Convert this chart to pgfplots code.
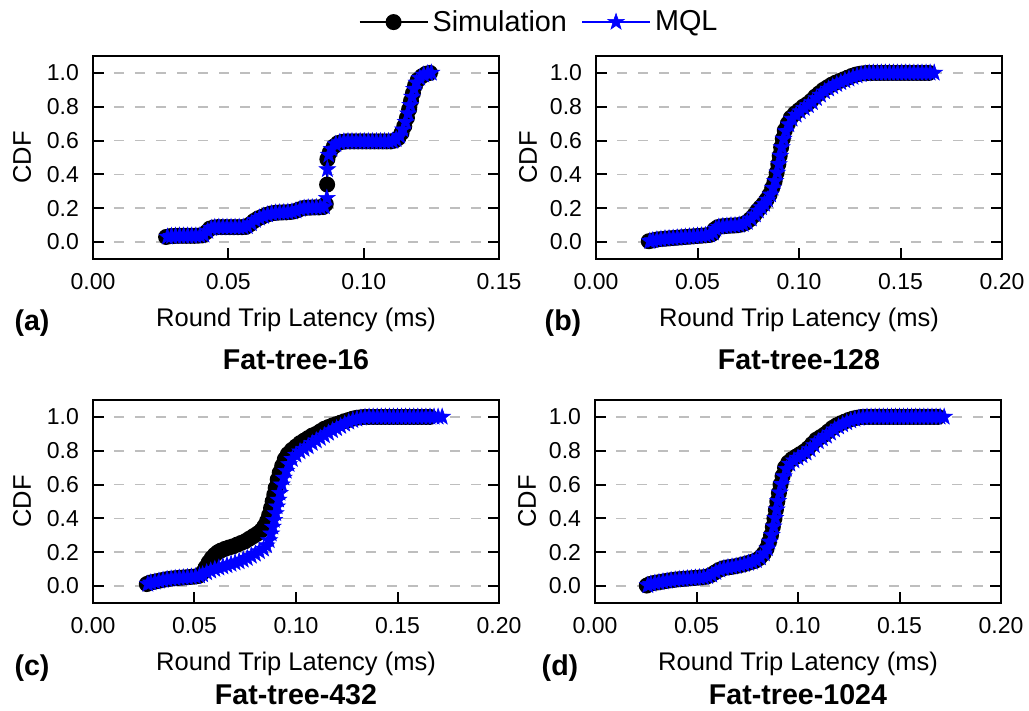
\documentclass[border=0pt]{standalone}
\usepackage{pgfplots}
\pgfplotsset{compat=1.18}
\usepackage{pgfplotstable}
\usepackage{fontspec}
\setmainfont{Liberation Sans}
\definecolor{gridgray}{RGB}{190,190,190}

% filled five-pointed star
\pgfdeclareplotmark{fstar}{%
  \pgfpathmoveto{\pgfpointpolar{90}{\pgfplotmarksize}}%
  \pgfpathlineto{\pgfpointpolar{126}{0.4\pgfplotmarksize}}%
  \pgfpathlineto{\pgfpointpolar{162}{\pgfplotmarksize}}%
  \pgfpathlineto{\pgfpointpolar{198}{0.4\pgfplotmarksize}}%
  \pgfpathlineto{\pgfpointpolar{234}{\pgfplotmarksize}}%
  \pgfpathlineto{\pgfpointpolar{270}{0.4\pgfplotmarksize}}%
  \pgfpathlineto{\pgfpointpolar{306}{\pgfplotmarksize}}%
  \pgfpathlineto{\pgfpointpolar{342}{0.4\pgfplotmarksize}}%
  \pgfpathlineto{\pgfpointpolar{18}{\pgfplotmarksize}}%
  \pgfpathlineto{\pgfpointpolar{54}{0.4\pgfplotmarksize}}%
  \pgfpathclose\pgfusepathqfillstroke}

% Fat-tree-16
\pgfplotstableread{
x y
0.0270 0.030
0.0285 0.035
0.0300 0.036
0.0315 0.037
0.0330 0.037
0.0345 0.037
0.0360 0.037
0.0375 0.037
0.0390 0.038
0.0405 0.040
0.0420 0.060
0.0432 0.080
0.0445 0.086
0.0460 0.088
0.0475 0.088
0.0490 0.088
0.0505 0.088
0.0520 0.088
0.0535 0.088
0.0550 0.088
0.0565 0.090
0.0580 0.105
0.0595 0.125
0.0610 0.140
0.0625 0.150
0.0640 0.160
0.0655 0.168
0.0670 0.172
0.0685 0.174
0.0700 0.175
0.0715 0.176
0.0730 0.178
0.0745 0.182
0.0760 0.192
0.0775 0.200
0.0790 0.203
0.0805 0.204
0.0820 0.205
0.0835 0.205
0.0850 0.207
0.0860 0.225
0.0865 0.340
0.0866 0.490
0.0875 0.530
0.0890 0.565
0.0905 0.585
0.0920 0.592
0.0935 0.595
0.0950 0.595
0.0965 0.595
0.0980 0.595
0.0995 0.595
0.1010 0.595
0.1025 0.595
0.1040 0.595
0.1055 0.595
0.1070 0.595
0.1085 0.595
0.1100 0.595
0.1115 0.600
0.1128 0.615
0.1140 0.645
0.1150 0.685
0.1160 0.735
0.1168 0.785
0.1175 0.835
0.1182 0.880
0.1190 0.925
0.1200 0.958
0.1215 0.980
0.1230 0.995
0.1245 1.000
}\simA
\pgfplotstableread{
x y
0.0275 0.031
0.0290 0.035
0.0305 0.036
0.0320 0.037
0.0335 0.037
0.0350 0.037
0.0365 0.037
0.0380 0.037
0.0395 0.038
0.0410 0.042
0.0424 0.065
0.0437 0.082
0.0450 0.087
0.0465 0.088
0.0480 0.088
0.0495 0.088
0.0510 0.088
0.0525 0.088
0.0540 0.088
0.0555 0.089
0.0570 0.093
0.0585 0.110
0.0600 0.130
0.0615 0.143
0.0630 0.153
0.0645 0.162
0.0660 0.169
0.0675 0.173
0.0690 0.174
0.0705 0.175
0.0720 0.177
0.0735 0.179
0.0750 0.185
0.0765 0.195
0.0780 0.201
0.0795 0.203
0.0810 0.204
0.0825 0.205
0.0840 0.206
0.0855 0.210
0.0864 0.260
0.0866 0.430
0.0871 0.515
0.0882 0.550
0.0897 0.578
0.0912 0.590
0.0927 0.594
0.0942 0.595
0.0957 0.595
0.0972 0.595
0.0987 0.595
0.1002 0.595
0.1017 0.595
0.1032 0.595
0.1047 0.595
0.1062 0.595
0.1077 0.595
0.1092 0.595
0.1107 0.597
0.1120 0.607
0.1133 0.628
0.1145 0.665
0.1155 0.710
0.1164 0.760
0.1172 0.810
0.1179 0.858
0.1186 0.905
0.1195 0.942
0.1207 0.970
0.1222 0.988
0.1237 0.997
0.1250 1.000
}\mqlA

% Fat-tree-128
\pgfplotstableread{
x y
0.0260 0.005
0.0280 0.010
0.0300 0.015
0.0320 0.018
0.0340 0.020
0.0360 0.022
0.0380 0.024
0.0400 0.026
0.0420 0.028
0.0440 0.030
0.0460 0.032
0.0480 0.034
0.0500 0.036
0.0520 0.038
0.0540 0.040
0.0560 0.042
0.0575 0.050
0.0585 0.075
0.0600 0.088
0.0620 0.093
0.0640 0.095
0.0660 0.097
0.0680 0.098
0.0700 0.100
0.0720 0.105
0.0740 0.115
0.0760 0.135
0.0780 0.160
0.0795 0.185
0.0810 0.205
0.0825 0.225
0.0840 0.250
0.0855 0.280
0.0868 0.320
0.0880 0.360
0.0890 0.410
0.0898 0.460
0.0905 0.510
0.0912 0.560
0.0920 0.610
0.0930 0.660
0.0945 0.700
0.0960 0.735
0.0980 0.760
0.1000 0.780
0.1020 0.800
0.1040 0.815
0.1060 0.835
0.1080 0.860
0.1100 0.880
0.1120 0.900
0.1140 0.915
0.1160 0.930
0.1180 0.942
0.1200 0.952
0.1220 0.962
0.1240 0.972
0.1260 0.982
0.1280 0.990
0.1300 0.995
0.1320 0.998
0.1340 1.000
0.1360 1.000
0.1380 1.000
0.1400 1.000
0.1420 1.000
0.1440 1.000
0.1460 1.000
0.1480 1.000
0.1500 1.000
0.1520 1.000
0.1540 1.000
0.1560 1.000
0.1580 1.000
0.1600 1.000
0.1620 1.000
0.1640 1.000
}\simB
\pgfplotstableread{
x y
0.0265 0.005
0.0280 0.010
0.0300 0.014
0.0320 0.017
0.0340 0.020
0.0360 0.022
0.0380 0.024
0.0400 0.026
0.0420 0.028
0.0440 0.030
0.0460 0.032
0.0480 0.034
0.0500 0.036
0.0520 0.038
0.0540 0.040
0.0560 0.043
0.0578 0.055
0.0590 0.078
0.0605 0.089
0.0625 0.093
0.0645 0.095
0.0665 0.097
0.0685 0.098
0.0705 0.101
0.0725 0.106
0.0745 0.118
0.0765 0.138
0.0785 0.162
0.0800 0.185
0.0815 0.205
0.0830 0.225
0.0845 0.250
0.0860 0.280
0.0872 0.320
0.0883 0.360
0.0893 0.410
0.0901 0.460
0.0908 0.510
0.0915 0.560
0.0924 0.610
0.0935 0.655
0.0950 0.695
0.0966 0.728
0.0986 0.752
0.1006 0.772
0.1026 0.792
0.1046 0.808
0.1066 0.826
0.1086 0.850
0.1106 0.870
0.1126 0.890
0.1146 0.906
0.1166 0.920
0.1186 0.933
0.1206 0.944
0.1226 0.955
0.1246 0.965
0.1266 0.975
0.1286 0.984
0.1306 0.991
0.1326 0.996
0.1346 0.999
0.1366 1.000
0.1386 1.000
0.1406 1.000
0.1426 1.000
0.1446 1.000
0.1466 1.000
0.1486 1.000
0.1506 1.000
0.1526 1.000
0.1546 1.000
0.1566 1.000
0.1586 1.000
0.1606 1.000
0.1626 1.000
0.1646 1.000
0.1666 1.000
}\mqlB

% Fat-tree-432
\pgfplotstableread{
x y
0.0265 0.012
0.0280 0.020
0.0300 0.025
0.0320 0.030
0.0340 0.035
0.0360 0.040
0.0380 0.043
0.0400 0.046
0.0420 0.048
0.0440 0.050
0.0460 0.052
0.0480 0.054
0.0500 0.056
0.0520 0.060
0.0540 0.080
0.0555 0.110
0.0570 0.140
0.0585 0.165
0.0600 0.185
0.0615 0.200
0.0630 0.210
0.0650 0.220
0.0670 0.228
0.0690 0.235
0.0710 0.245
0.0730 0.255
0.0750 0.265
0.0770 0.280
0.0790 0.295
0.0810 0.310
0.0830 0.330
0.0845 0.355
0.0858 0.385
0.0868 0.420
0.0877 0.460
0.0885 0.500
0.0893 0.540
0.0900 0.580
0.0910 0.630
0.0920 0.670
0.0932 0.710
0.0945 0.750
0.0960 0.780
0.0980 0.805
0.1000 0.825
0.1020 0.845
0.1040 0.860
0.1060 0.875
0.1080 0.890
0.1100 0.900
0.1120 0.915
0.1140 0.930
0.1160 0.940
0.1180 0.950
0.1200 0.958
0.1220 0.966
0.1240 0.975
0.1260 0.982
0.1280 0.990
0.1300 0.995
0.1320 0.998
0.1340 1.000
0.1360 1.000
0.1380 1.000
0.1400 1.000
0.1420 1.000
0.1440 1.000
0.1460 1.000
0.1480 1.000
0.1500 1.000
0.1520 1.000
0.1540 1.000
0.1560 1.000
0.1580 1.000
0.1600 1.000
0.1620 1.000
0.1640 1.000
0.1660 1.000
}\simC
\pgfplotstableread{
x y
0.0270 0.012
0.0285 0.020
0.0305 0.025
0.0325 0.030
0.0345 0.035
0.0365 0.040
0.0385 0.043
0.0405 0.046
0.0425 0.048
0.0445 0.050
0.0465 0.052
0.0485 0.054
0.0505 0.056
0.0525 0.061
0.0540 0.068
0.0560 0.080
0.0580 0.090
0.0600 0.100
0.0620 0.108
0.0640 0.115
0.0660 0.122
0.0680 0.130
0.0700 0.138
0.0720 0.145
0.0740 0.155
0.0760 0.165
0.0780 0.178
0.0800 0.190
0.0820 0.205
0.0840 0.220
0.0855 0.240
0.0868 0.270
0.0878 0.310
0.0886 0.350
0.0893 0.390
0.0900 0.430
0.0907 0.470
0.0914 0.510
0.0921 0.550
0.0930 0.600
0.0940 0.640
0.0952 0.680
0.0966 0.720
0.0982 0.750
0.1000 0.775
0.1020 0.795
0.1040 0.810
0.1060 0.825
0.1080 0.845
0.1100 0.860
0.1120 0.875
0.1140 0.890
0.1160 0.905
0.1180 0.920
0.1200 0.932
0.1220 0.945
0.1240 0.958
0.1260 0.970
0.1280 0.980
0.1300 0.988
0.1320 0.994
0.1340 0.998
0.1360 1.000
0.1380 1.000
0.1400 1.000
0.1420 1.000
0.1440 1.000
0.1460 1.000
0.1480 1.000
0.1500 1.000
0.1520 1.000
0.1540 1.000
0.1560 1.000
0.1580 1.000
0.1600 1.000
0.1620 1.000
0.1640 1.000
0.1660 1.000
0.1680 1.000
0.1700 1.000
0.1720 1.000
}\mqlC

% Fat-tree-1024
\pgfplotstableread{
x y
0.0255 0.003
0.0270 0.012
0.0290 0.018
0.0310 0.022
0.0330 0.026
0.0350 0.030
0.0370 0.034
0.0390 0.037
0.0410 0.040
0.0430 0.042
0.0450 0.044
0.0470 0.046
0.0490 0.048
0.0510 0.050
0.0530 0.052
0.0550 0.056
0.0570 0.065
0.0590 0.080
0.0610 0.095
0.0630 0.105
0.0650 0.110
0.0670 0.113
0.0690 0.117
0.0710 0.122
0.0730 0.128
0.0750 0.135
0.0770 0.142
0.0790 0.150
0.0810 0.165
0.0830 0.190
0.0845 0.220
0.0857 0.260
0.0867 0.300
0.0876 0.350
0.0884 0.400
0.0891 0.450
0.0898 0.500
0.0906 0.550
0.0914 0.600
0.0924 0.650
0.0936 0.700
0.0952 0.730
0.0970 0.750
0.0990 0.765
0.1010 0.780
0.1030 0.795
0.1050 0.815
0.1070 0.840
0.1090 0.865
0.1110 0.880
0.1130 0.895
0.1150 0.915
0.1170 0.935
0.1190 0.950
0.1210 0.962
0.1230 0.972
0.1250 0.982
0.1270 0.990
0.1290 0.995
0.1310 0.999
0.1330 1.000
0.1350 1.000
0.1370 1.000
0.1390 1.000
0.1410 1.000
0.1430 1.000
0.1450 1.000
0.1470 1.000
0.1490 1.000
0.1510 1.000
0.1530 1.000
0.1550 1.000
0.1570 1.000
0.1590 1.000
0.1610 1.000
0.1630 1.000
0.1650 1.000
0.1670 1.000
0.1690 1.000
}\simD
\pgfplotstableread{
x y
0.0260 0.004
0.0275 0.012
0.0295 0.018
0.0315 0.022
0.0335 0.026
0.0355 0.030
0.0375 0.034
0.0395 0.037
0.0415 0.040
0.0435 0.042
0.0455 0.044
0.0475 0.046
0.0495 0.048
0.0515 0.050
0.0535 0.052
0.0555 0.057
0.0575 0.066
0.0595 0.082
0.0615 0.096
0.0635 0.105
0.0655 0.110
0.0675 0.114
0.0695 0.118
0.0715 0.123
0.0735 0.129
0.0755 0.136
0.0775 0.143
0.0795 0.152
0.0815 0.168
0.0834 0.192
0.0849 0.222
0.0861 0.262
0.0871 0.302
0.0880 0.352
0.0888 0.402
0.0895 0.452
0.0902 0.502
0.0910 0.552
0.0919 0.602
0.0930 0.648
0.0943 0.692
0.0960 0.722
0.0980 0.742
0.1000 0.758
0.1020 0.772
0.1040 0.788
0.1060 0.808
0.1080 0.832
0.1100 0.855
0.1120 0.872
0.1140 0.888
0.1160 0.906
0.1180 0.925
0.1200 0.942
0.1220 0.955
0.1240 0.967
0.1260 0.978
0.1280 0.987
0.1300 0.993
0.1320 0.997
0.1340 1.000
0.1360 1.000
0.1380 1.000
0.1400 1.000
0.1420 1.000
0.1440 1.000
0.1460 1.000
0.1480 1.000
0.1500 1.000
0.1520 1.000
0.1540 1.000
0.1560 1.000
0.1580 1.000
0.1600 1.000
0.1620 1.000
0.1640 1.000
0.1660 1.000
0.1680 1.000
0.1700 1.000
0.1720 1.000
}\mqlD

\pgfplotsset{
  panel/.style={
    scale only axis, width=203pt, height=101.5pt, anchor=south west,
    xmin=0, ymin=-0.1, ymax=1.1,
    ytick={0,0.2,0.4,0.6,0.8,1.0},
    tick align=inside, xtick pos=bottom, ytick pos=both,
    ymajorgrids, grid style={gridgray, line width=0.8pt, dash pattern=on 5pt off 5.5pt},
    axis line style={line width=1.1pt},
    major tick style={line width=1pt, black}, major tick length=5.5pt,
    scaled x ticks=false,
    /pgf/number format/assume math mode=true,
    ticklabel style={font=\fontsize{11.5}{13}\selectfont},
    xticklabel style={yshift=-3.5pt, /pgf/number format/.cd, fixed, fixed zerofill, precision=2},
    yticklabel style={xshift=-3.5pt, /pgf/number format/.cd, fixed, fixed zerofill, precision=1},
    clip=false,
  },
  sim/.style={black, line width=1pt, mark=*, mark size=3.5pt},
  mql/.style={blue, line width=1pt, mark=fstar, mark size=4.3pt, mark options={fill=blue, line width=0.3pt}},
}

\begin{document}
\begin{tikzpicture}
\useasboundingbox (0,0) rectangle (514.5pt,355.5pt);
\tikzset{lab/.style={inner sep=0pt, font=\fontsize{12.75}{14}\selectfont},
  ttl/.style={inner sep=0pt, font=\fontsize{14.3}{16}\selectfont\bfseries}}

\begin{axis}[panel, at={(46.5pt,226pt)}, xmax=0.15, xtick={0,0.05,0.1,0.15},
  legend columns=2,
  legend style={draw=none, fill=none, at={(1.101,1.167)}, anchor=center,
    font=\fontsize{14.4}{16}\selectfont,
    /tikz/every even column/.append style={column sep=5pt}},
  legend image code/.code={\draw[mark repeat=2,mark phase=2] plot coordinates {(0pt,0pt) (17pt,0pt) (34pt,0pt)};}]
  \addplot[sim] table {\simA};
  \addlegendentry{Simulation}
  \addplot[mql] table {\mqlA};
  \addlegendentry{MQL}
\end{axis}

\begin{axis}[panel, at={(298pt,226pt)}, xmax=0.2, xtick={0,0.05,0.1,0.15,0.2}]
  \addplot[sim] table {\simB};
  \addplot[mql] table {\mqlB};
\end{axis}

\begin{axis}[panel, at={(46.5pt,54pt)}, xmax=0.2, xtick={0,0.05,0.1,0.15,0.2}]
  \addplot[sim] table {\simC};
  \addplot[mql] table {\mqlC};
\end{axis}

\begin{axis}[panel, at={(297.5pt,54pt)}, xmax=0.2, xtick={0,0.05,0.1,0.15,0.2}]
  \addplot[sim] table {\simD};
  \addplot[mql] table {\mqlD};
\end{axis}

% labels and titles
\node[lab] at (148pt,195.5pt) {Round Trip Latency (ms)};
\node[lab] at (399.5pt,195.5pt) {Round Trip Latency (ms)};
\node[lab] at (148pt,23.5pt) {Round Trip Latency (ms)};
\node[lab] at (399pt,23.5pt) {Round Trip Latency (ms)};
\node[lab, rotate=90] at (11pt,276.75pt) {CDF};
\node[lab, rotate=90] at (264pt,276.75pt) {CDF};
\node[lab, rotate=90] at (11pt,104.75pt) {CDF};
\node[lab, rotate=90] at (263.5pt,104.75pt) {CDF};
\node[ttl] at (16pt,194pt) {(a)};
\node[ttl] at (281.5pt,194pt) {(b)};
\node[ttl] at (16pt,21.5pt) {(c)};
\node[ttl] at (280pt,21.5pt) {(d)};
\node[ttl] at (148pt,175.5pt) {Fat-tree-16};
\node[ttl] at (399.5pt,175.5pt) {Fat-tree-128};
\node[ttl] at (148pt,8pt) {Fat-tree-432};
\node[ttl] at (399pt,8pt) {Fat-tree-1024};
\end{tikzpicture}
\end{document}
